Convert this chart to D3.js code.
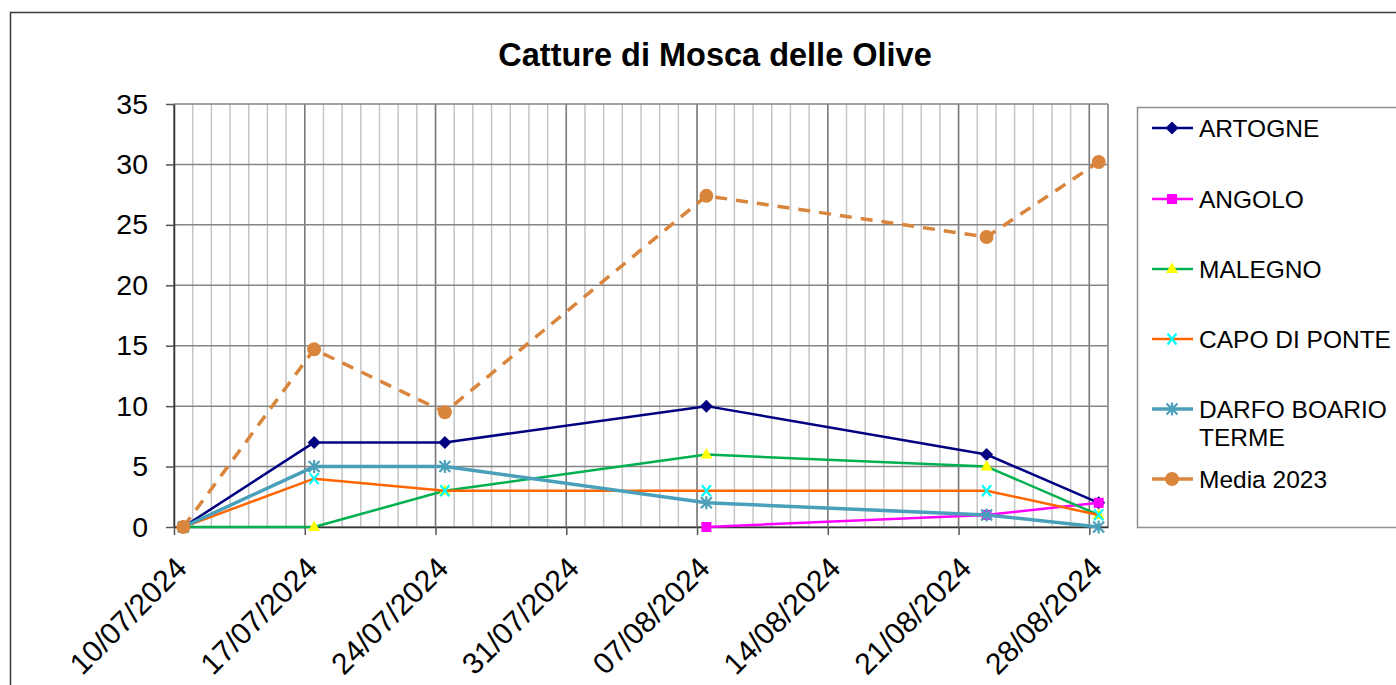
<!DOCTYPE html>
<html><head><meta charset="utf-8">
<script src="https://cdn.jsdelivr.net/npm/d3@7"></script>
<style>html,body{margin:0;padding:0;background:#fff;}svg{display:block;font-family:"Liberation Sans",Arial,sans-serif;}</style>
</head><body><svg id="c" width="1396" height="685"></svg>
<script>
const title = "Catture di Mosca delle Olive";
const dates = ["10/07/2024","17/07/2024","24/07/2024","07/08/2024","22/08/2024","28/08/2024"];
const seriesNames = ["ARTOGNE","ANGOLO","MALEGNO","CAPO DI PONTE","DARFO BOARIO TERME","Media 2023"];
const artogne = [0,7,7,10,6,2];
const angolo = [null,null,null,0,1,2];
const malegno = [0,0,3,6,5,1];
const capoDiPonte = [0,4,3,3,3,1];
const darfo = [0,5,5,2,1,0];
const media2023 = [0,14.7,9.5,27.4,24,30.2];
const yTicks = [0,5,10,15,20,25,30,35];
const xTickLabels = ["10/07/2024","17/07/2024","24/07/2024","31/07/2024","07/08/2024","14/08/2024","21/08/2024","28/08/2024"];
const xDomain = ["10/07/2024","29/08/2024"];

const parse = d3.utcParse("%d/%m/%Y");
const svg = d3.select("#c");
const L = 174, R = 1108, T = 104, B = 527;
const x = d3.scaleUtc().domain(xDomain.map(parse)).range([L, R]);
const y = d3.scaleLinear().domain([0, 35]).range([B, T]);
const half = 12*3600*1000;
const px = d => x(new Date(parse(d).getTime() + half));

// outer border
svg.append("rect").attr("x",10.5).attr("y",12.5).attr("width",1400).attr("height",700)
  .attr("fill","none").attr("stroke","#3a3a3a").attr("stroke-width",1.5);

// title
svg.append("text").attr("x",715).attr("y",66).attr("text-anchor","middle")
  .attr("font-size",32.5).attr("font-weight","bold").attr("fill","#000").text(title);

// minor vertical gridlines (days)
const days = d3.utcDay.range(parse(xDomain[0]), d3.utcDay.offset(parse(xDomain[1]),1));
svg.append("g").selectAll("line").data(days).join("line")
  .attr("x1", d=>x(d)).attr("x2", d=>x(d)).attr("y1",T).attr("y2",B)
  .attr("stroke","#c4c4c4").attr("stroke-width",1.5);
// major vertical gridlines (weeks)
const weeks = xTickLabels.map(parse);
svg.append("g").selectAll("line").data(weeks).join("line")
  .attr("x1", d=>x(d)).attr("x2", d=>x(d)).attr("y1",T).attr("y2",B)
  .attr("stroke","#7a7a7a").attr("stroke-width",1.5);
// right border of plot
svg.append("line").attr("x1",R).attr("x2",R).attr("y1",T).attr("y2",B).attr("stroke","#8a8a8a").attr("stroke-width",1.5);
// horizontal gridlines
svg.append("g").selectAll("line").data(yTicks).join("line")
  .attr("x1",L).attr("x2",R).attr("y1",d=>y(d)).attr("y2",d=>y(d))
  .attr("stroke","#858585").attr("stroke-width",1.5);

// y axis
const yAxis = svg.append("g").attr("transform",`translate(${L},0)`)
  .call(d3.axisLeft(y).tickValues(yTicks).tickSize(8).tickPadding(18).tickSizeOuter(0));
yAxis.select(".domain").attr("stroke","#333").attr("stroke-width",1.5);
yAxis.selectAll(".tick line").attr("stroke","#555").attr("stroke-width",1.5);
yAxis.selectAll(".tick text").attr("font-size",28.5).attr("font-family","Liberation Sans, Arial, sans-serif").attr("fill","#000");

// x axis
const xAxis = svg.append("g").attr("transform",`translate(0,${B})`)
  .call(d3.axisBottom(x).tickValues(weeks).tickSize(8).tickSizeOuter(0).tickFormat(d3.utcFormat("%d/%m/%Y")));
xAxis.select(".domain").attr("stroke","#333").attr("stroke-width",1.5);
xAxis.selectAll(".tick line").attr("stroke","#555").attr("stroke-width",1.5);
xAxis.selectAll(".tick text").attr("font-size",30).attr("font-family","Liberation Sans, Arial, sans-serif").attr("fill","#000")
  .attr("text-anchor","end").attr("y",0).attr("dy",0)
  .attr("transform","translate(14,43) rotate(-45)");

// series
const seriesData = [artogne, angolo, malegno, capoDiPonte, darfo, media2023];
const styles = [
  {color:"#000080", width:2.5, dash:null, marker:"diamond", mfill:"#000080", mstroke:"#000080"},
  {color:"#FF00FF", width:2.5, dash:null, marker:"square", mfill:"#FF00FF", mstroke:"#FF00FF"},
  {color:"#00B050", width:2.5, dash:null, marker:"triangle", mfill:"#FFFF00", mstroke:"#FFFF00"},
  {color:"#FF6600", width:2.5, dash:null, marker:"x", mfill:"none", mstroke:"#00FFFF"},
  {color:"#4AA0BA", width:3.5, dash:null, marker:"star", mfill:"none", mstroke:"#4AA0BA"},
  {color:"#D9853B", width:3.5, dash:"12,9", marker:"circle", mfill:"#D9853B", mstroke:"#D9853B"}
];

function drawMarker(g, type, cx, cy, st){
  if(type==="diamond"){
    g.append("path").attr("d",`M${cx},${cy-6.5}L${cx+6.5},${cy}L${cx},${cy+6.5}L${cx-6.5},${cy}Z`).attr("fill",st.mfill);
  } else if(type==="square"){
    g.append("rect").attr("x",cx-5).attr("y",cy-5).attr("width",10).attr("height",10).attr("fill",st.mfill);
  } else if(type==="triangle"){
    g.append("path").attr("d",`M${cx},${cy-6.5}L${cx+6},${cy+4}L${cx-6},${cy+4}Z`).attr("fill",st.mfill);
  } else if(type==="x"){
    g.append("path").attr("d",`M${cx-4.5},${cy-5.5}L${cx+4.5},${cy+5.5}M${cx+4.5},${cy-5.5}L${cx-4.5},${cy+5.5}`).attr("stroke",st.mstroke).attr("stroke-width",2.2).attr("fill","none");
  } else if(type==="star"){
    g.append("path").attr("d",`M${cx-5.5},${cy-5.5}L${cx+5.5},${cy+5.5}M${cx+5.5},${cy-5.5}L${cx-5.5},${cy+5.5}M${cx},${cy-6.5}L${cx},${cy+6.5}`).attr("stroke",st.mstroke).attr("stroke-width",2.2).attr("fill","none");
  } else if(type==="circle"){
    g.append("circle").attr("cx",cx).attr("cy",cy).attr("r",7).attr("fill",st.mfill);
  }
}

const line = d3.line().defined(d=>d.v!==null).x(d=>px(d.d)).y(d=>y(d.v));
seriesData.forEach((vals,i)=>{
  const st = styles[i];
  const pts = vals.map((v,j)=>({d:dates[j], v}));
  const g = svg.append("g");
  g.append("path").datum(pts).attr("d",line).attr("fill","none").attr("stroke",st.color)
    .attr("stroke-width",st.width).attr("stroke-linejoin","round")
    .attr("stroke-dasharray",st.dash);
  pts.filter(p=>p.v!==null).forEach(p=>drawMarker(g, st.marker, px(p.d), y(p.v), st));
});

// legend
const lg = svg.append("g");
lg.append("rect").attr("x",1137.5).attr("y",107.5).attr("width",300).attr("height",420)
  .attr("fill","#fff").attr("stroke","#8f8f8f").attr("stroke-width",1.5);
const legendY = [128,199,269,339,409,479];
seriesNames.forEach((name,i)=>{
  const st = styles[i], yy = legendY[i];
  lg.append("line").attr("x1",1152).attr("x2",1193).attr("y1",yy).attr("y2",yy)
    .attr("stroke",st.color).attr("stroke-width",st.width);
  drawMarker(lg, st.marker, 1172, yy, st);
  const t = lg.append("text").attr("x",1199).attr("y",yy).attr("dy","0.36em")
    .attr("font-size",24.5).attr("fill","#000");
  if(name==="DARFO BOARIO TERME"){
    t.append("tspan").attr("x",1199).text("DARFO BOARIO");
    t.append("tspan").attr("x",1199).attr("dy","1.16em").text("TERME");
  } else t.text(name);
});
</script></body></html>
